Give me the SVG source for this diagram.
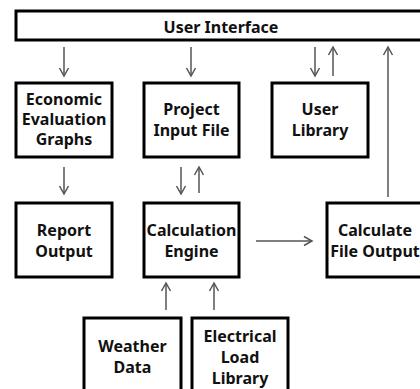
<svg xmlns="http://www.w3.org/2000/svg" width="420" height="389" viewBox="0 0 420 389">
<style>
.box{fill:#fff;stroke:#000;stroke-width:3}
.t{font-family:"Noto Sans","Open Sans",sans-serif;font-weight:bold;font-size:16px;fill:#111;text-anchor:middle}
.c{stroke:#555;stroke-width:1.5;fill:none;marker-end:url(#ah)}
</style>
<defs>
<marker id="ah" markerUnits="userSpaceOnUse" markerWidth="12" markerHeight="12" refX="9" refY="6" orient="auto">
<path d="M1,1.5 L9,6 L1,10.5" fill="none" stroke="#555" stroke-width="1.5"/>
</marker>
</defs>
<rect width="420" height="389" fill="#fff"/>
<g id="ui"><rect class="box" x="16" y="11" width="420" height="29"/><text class="t" x="221" y="33">User Interface</text></g>
<g id="econ"><rect class="box" x="16" y="83" width="96" height="74"/><text class="t" x="64" y="105">Economic</text><text class="t" x="64" y="125">Evaluation</text><text class="t" x="64" y="145">Graphs</text></g>
<g id="project"><rect class="box" x="144" y="83" width="95" height="74"/><text class="t" x="191.5" y="115">Project</text><text class="t" x="191.5" y="136">Input File</text></g>
<g id="userlib"><rect class="box" x="272" y="83" width="96" height="74"/><text class="t" x="320" y="115">User</text><text class="t" x="320" y="136">Library</text></g>
<g id="report"><rect class="box" x="16" y="203" width="96" height="74"/><text class="t" x="64" y="236">Report</text><text class="t" x="64" y="257">Output</text></g>
<g id="engine"><rect class="box" x="144" y="203" width="95" height="74"/><text class="t" x="191.5" y="236">Calculation</text><text class="t" x="191.5" y="257">Engine</text></g>
<g id="fileout"><rect class="box" x="327" y="203" width="110" height="74"/><text class="t" x="375" y="236">Calculate</text><text class="t" x="375" y="257">File Output</text></g>
<g id="weather"><rect class="box" x="84" y="318" width="97" height="90"/><text class="t" x="132.5" y="352">Weather</text><text class="t" x="132.5" y="373">Data</text></g>
<g id="elec"><rect class="box" x="192" y="318" width="96" height="90"/><text class="t" x="240" y="342">Electrical</text><text class="t" x="240" y="363">Load</text><text class="t" x="240" y="384">Library</text></g>
<g id="connectors">
<line class="c" x1="64" y1="47" x2="64" y2="76"/>
<line class="c" x1="191" y1="47" x2="191" y2="76"/>
<line class="c" x1="315" y1="47" x2="315" y2="76"/>
<line class="c" x1="333" y1="76" x2="333" y2="47"/>
<line class="c" x1="388" y1="197" x2="388" y2="47"/>
<line class="c" x1="64" y1="167" x2="64" y2="194"/>
<line class="c" x1="181" y1="167" x2="181" y2="194"/>
<line class="c" x1="199" y1="193" x2="199" y2="167"/>
<line class="c" x1="256" y1="241" x2="312" y2="241"/>
<line class="c" x1="166" y1="310" x2="166" y2="283"/>
<line class="c" x1="214" y1="310" x2="214" y2="283"/>
</g>
</svg>
